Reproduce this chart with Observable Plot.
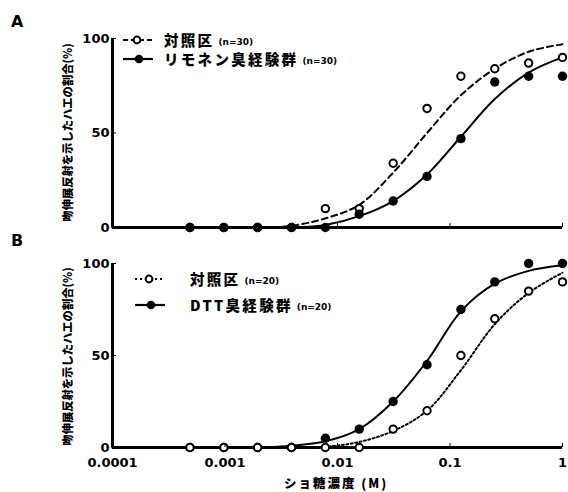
<!DOCTYPE html>
<html><head><meta charset="utf-8">
<script src="https://cdn.jsdelivr.net/npm/d3@7"></script>
<script src="https://cdn.jsdelivr.net/npm/@observablehq/plot@0.6"></script>
<style>
body{margin:0;background:#fff;}
#wrap{position:relative;width:568px;height:492px;overflow:hidden;background:#fff;}
.panel{position:absolute;left:0;}
.plab{position:absolute;font-family:"DejaVu Sans";font-weight:bold;font-size:16px;line-height:16px;}
.leg{position:absolute;display:flex;align-items:center;white-space:nowrap;height:16px;line-height:16px;}
.leg .t{font-family:"Noto Sans CJK JP";font-weight:900;font-size:14.5px;letter-spacing:2.3px;line-height:16px;}
.leg .n{font-family:"DejaVu Sans";font-weight:bold;font-size:9px;line-height:16px;margin-left:4px;position:relative;top:2px;}
.ylab{position:absolute;font-family:"Noto Sans CJK JP";font-weight:900;font-size:11.3px;line-height:13px;white-space:nowrap;}
.xlab{position:absolute;font-family:"Noto Sans CJK JP";font-weight:900;font-size:12.5px;letter-spacing:2px;line-height:13px;white-space:nowrap;}
</style></head><body><div id="wrap"></div>
<script>
// Sucrose concentrations (M), two-fold dilution series
const conc = [0.000488, 0.000977, 0.00195, 0.0039, 0.0078, 0.0156, 0.03125, 0.0625, 0.125, 0.25, 0.5, 1];
// Panel A observed responses (%)
const aControl = [0, 0, 0, 0, 10, 10, 34, 63, 80, 84, 87, 90];
const aLimonene = [0, 0, 0, 0, 0, 7, 14, 27, 47, 77, 80, 80];
// Panel B observed responses (%)
const bControl = [0, 0, 0, 0, 0, 0, 10, 20, 50, 70, 85, 90];
const bDTT = [0, 0, 0, 0, 5, 10, 25, 45, 75, 90, 100, 100];
// Fitted curves
const fitX = [0.0001, 0.001, 0.002, 0.004, 0.008, 0.0156, 0.03125, 0.0625, 0.125, 0.25, 0.5, 1];
const aControlFit = [0, 0, 0, 1, 5, 12, 29, 50, 70, 84, 93, 97];
const aLimoneneFit = [0, 0, 0, 0, 1.5, 6, 14, 28, 48, 68, 82, 90];
const bControlFit = [0, 0, 0, 0, 0.5, 3, 9, 20, 42, 67, 84, 95];
const bDTTFit = [0, 0, 0, 1, 3.5, 10, 25, 47, 74, 89, 96, 99];
// Axis ticks
const xTicks = [0.0001, 0.001, 0.01, 0.1, 1];
const xTickLabels = ["0.0001", "0.001", "0.01", "0.1", "1"];
const yTicks = [0, 50, 100];
// Texts
const yTitle = "吻伸展反射を示したハエの割合(%)";
const xTitle = "ショ糖濃度 (M)";
const legendA = [["対照区", "(n=30)"], ["リモネン臭経験群", "(n=30)"]];
const legendB = [["対照区", "(n=20)"], ["DTT臭経験群", "(n=20)"]];

const toRows = (xs, ys) => xs.map((x, i) => ({x, y: ys[i]}));

function panel(cfg) {
  const openDots = Plot.dot(toRows(conc, cfg.open), {x: "x", y: "y", r: 3.7, fill: "white", stroke: "black", strokeWidth: 2});
  const fillDots = Plot.dot(toRows(conc, cfg.filled), {x: "x", y: "y", r: 4.7, fill: "black", stroke: "none"});
  return Plot.plot({
    width: 568, height: cfg.height,
    marginLeft: 112, marginRight: 6, marginTop: cfg.mt, marginBottom: cfg.mb,
    style: {fontFamily: "DejaVu Sans", fontWeight: "bold", fontSize: "13px", color: "black", background: "transparent", overflow: "visible"},
    x: {type: "log", domain: [0.0001, 1]},
    y: {domain: [0, 100]},
    marks: [
      Plot.line(toRows(fitX, cfg.openFit), {x: "x", y: "y", stroke: "black", strokeWidth: 2, strokeDasharray: cfg.dash, curve: "catmull-rom"}),
      Plot.line(toRows(fitX, cfg.filledFit), {x: "x", y: "y", stroke: "black", strokeWidth: 2, curve: "catmull-rom"}),
      Plot.ruleY([0], {stroke: "black", strokeWidth: 3}),
      Plot.ruleX([0.0001], {stroke: "black", strokeWidth: 3}),
      ...(cfg.filledOnTop ? [openDots, fillDots] : [fillDots, openDots]),
      Plot.axisY({ticks: yTicks, tickSize: -4, tickPadding: 7, label: null, tickFormat: d => String(d)}),
      Plot.axisX({ticks: xTicks, tickSize: -4, tickPadding: 14, label: null,
        tickFormat: d => cfg.showX ? xTickLabels[xTicks.indexOf(d)] : ""})
    ]
  });
}

const wrap = document.getElementById("wrap");
function place(el, top) { el.classList.add("panel"); el.style.top = top + "px"; wrap.appendChild(el); }

place(panel({height: 245, mt: 38, mb: 18, open: aControl, filled: aLimonene, openFit: aControlFit, filledFit: aLimoneneFit, dash: "6,4", filledOnTop: true, showX: false}), 0);
place(panel({height: 252, mt: 23, mb: 45, open: bControl, filled: bDTT, openFit: bControlFit, filledFit: bDTTFit, dash: "2,2.5", filledOnTop: false, showX: true}), 240);

function addHTML(html) { const d = document.createElement("div"); d.innerHTML = html; const el = d.firstElementChild; wrap.appendChild(el); return el; }

// Panel letters
addHTML(`<div class="plab" style="left:11px;top:14px">A</div>`);
addHTML(`<div class="plab" style="left:11px;top:233px">B</div>`);

// Legend symbols
const symOpenDash = `<svg width="32" height="12" style="display:block"><line x1="1" y1="6" x2="31" y2="6" stroke="black" stroke-width="2" stroke-dasharray="5,3"/><circle cx="15" cy="6" r="3.4" fill="white" stroke="black" stroke-width="2"/></svg>`;
const symFilled = `<svg width="32" height="12" style="display:block"><line x1="1" y1="6" x2="31" y2="6" stroke="black" stroke-width="2.2"/><circle cx="17" cy="6" r="4.3" fill="black"/></svg>`;
const symOpenDot = `<svg width="32" height="12" style="display:block"><line x1="1" y1="6" x2="31" y2="6" stroke="black" stroke-width="2" stroke-dasharray="2,3"/><circle cx="15" cy="6" r="3.4" fill="white" stroke="black" stroke-width="2"/></svg>`;

function legendRow(left, top, sym, gap, label, n) {
  addHTML(`<div class="leg" style="left:${left}px;top:${top}px">${sym}<span style="width:${gap}px;display:inline-block"></span><span class="t">${label}</span><span class="n">${n}</span></div>`);
}
legendRow(122, 32, symOpenDash, 10, legendA[0][0], legendA[0][1]);
legendRow(122, 51, symFilled, 10, legendA[1][0], legendA[1][1]);
legendRow(134, 271, symOpenDot, 24, legendB[0][0], legendB[0][1]);
legendRow(134, 297, symFilled, 24, legendB[1][0], legendB[1][1]);

// Axis titles
const ya = addHTML(`<div class="ylab">${yTitle}</div>`);
const yb = addHTML(`<div class="ylab">${yTitle}</div>`);
function posY(el, cx, cy) {
  const w = el.offsetWidth, h = el.offsetHeight;
  el.style.left = (cx - w / 2) + "px"; el.style.top = (cy - h / 2) + "px";
  el.style.transform = "rotate(-90deg)";
}
posY(ya, 67, 132);
posY(yb, 67, 356);
const xl = addHTML(`<div class="xlab">${xTitle}</div>`);
xl.style.left = (336 - xl.offsetWidth / 2) + "px";
xl.style.top = "476px";
</script></body></html>
